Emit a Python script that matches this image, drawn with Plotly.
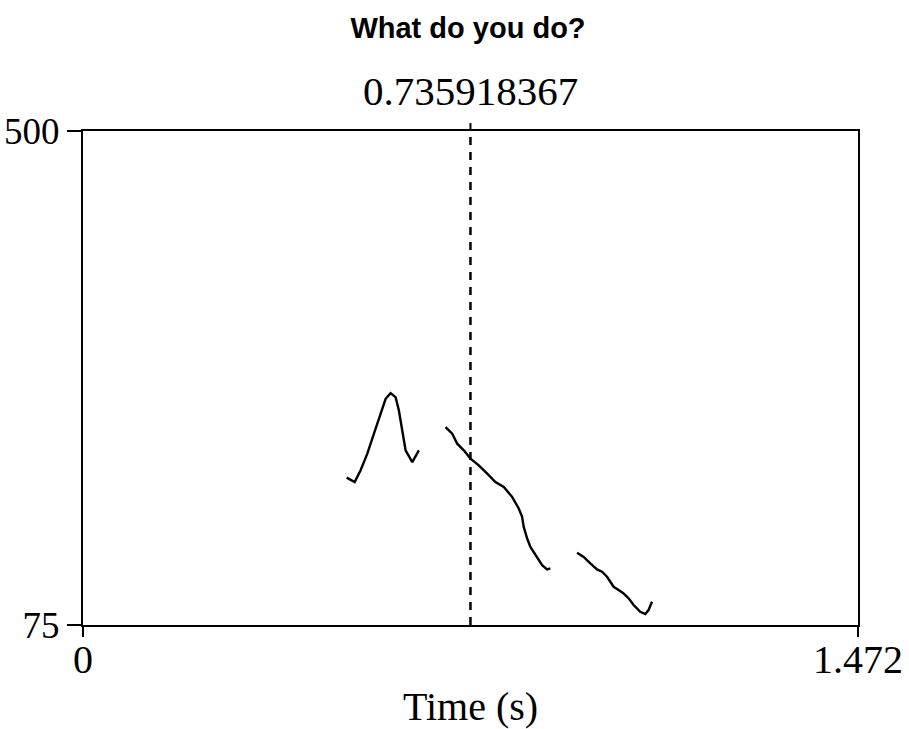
import plotly.graph_objects as go

# ---- data (pitch contour segments, Hz vs time s) ----
seg1_t = [0.5008, 0.516, 0.5273, 0.540, 0.5526, 0.5653, 0.5748, 0.5842, 0.5937, 0.600, 0.6064, 0.6127, 0.6254, 0.6379]
seg1_f = [201.8, 198.0, 208.1, 222.4, 239.6, 256.8, 269.6, 274.5, 271.0, 259.6, 242.4, 225.3, 215.2, 225.3]

seg2_t = [0.6886, 0.7013, 0.7108, 0.7233, 0.736, 0.7517, 0.7677, 0.7834, 0.7992, 0.8151, 0.8276, 0.834, 0.8371,
          0.8436, 0.8498, 0.8593, 0.872, 0.8815, 0.8877]
seg2_f = [245.3, 239.6, 231.0, 225.3, 218.1, 212.4, 205.2, 198.0, 193.7, 185.2, 175.2, 168.0, 159.4,
          149.4, 142.2, 135.1, 126.5, 122.8, 123.7]

seg3_t = [0.9384, 0.9509, 0.9636, 0.9763, 0.9858, 0.9953, 1.0016, 1.0078, 1.0173, 1.0268, 1.0363, 1.0458,
          1.0585, 1.068, 1.0742, 1.0807]
seg3_f = [137.1, 133.6, 128.0, 122.8, 120.8, 116.5, 112.2, 107.9, 105.1, 102.2, 97.9, 92.2,
          86.4, 84.4, 87.9, 95.0]

cursor_t = 0.735918367
cursor_label = "0.735918367"
x_range = [0, 1.472]
y_range = [75, 500]
x_ticks = [0, 1.472]
x_ticktext = ["0", "1.472"]
y_ticks = [75, 500]
y_ticktext = ["75", "500"]

title_text = "What do you do?"
x_title = "Time (s)"

SERIF = "Liberation Serif, Times New Roman, serif"
SANS = "Liberation Sans, Arial, sans-serif"

fig = go.Figure()
for t, f in [(seg1_t, seg1_f), (seg2_t, seg2_f), (seg3_t, seg3_f)]:
    fig.add_trace(go.Scatter(x=t, y=f, mode="lines",
                             line=dict(color="black", width=2.4),
                             showlegend=False, hoverinfo="skip"))

# dashed cursor line
fig.add_shape(type="line", xref="x", yref="y", x0=cursor_t, x1=cursor_t,
              y0=y_range[0], y1=y_range[1],
              line=dict(color="black", width=2.5, dash="8px,7px"))
# small tick above top frame at cursor
fig.add_shape(type="line", xref="x", yref="paper", x0=cursor_t, x1=cursor_t,
              y0=1.0, y1=1.016, line=dict(color="black", width=2))

fig.add_annotation(x=cursor_t, xref="x", y=1.081, yref="paper",
                   text=cursor_label, showarrow=False, xanchor="center", yanchor="middle",
                   font=dict(family=SERIF, size=41, color="black"))

fig.update_layout(
    width=909, height=729, autosize=False,
    margin=dict(l=83, r=51, t=131, b=104, autoexpand=False),
    paper_bgcolor="white", plot_bgcolor="white",
    title=dict(text="<b>" + title_text + "</b>", x=468 / 909, xanchor="center",
               y=1 - 28 / 729, yanchor="middle", yref="container",
               font=dict(family=SANS, size=29, color="black")),
    showlegend=False,
)

fig.update_xaxes(range=x_range, tickvals=x_ticks, ticktext=x_ticktext, automargin=False,
                 showgrid=False, zeroline=False,
                 showline=True, mirror=True, linecolor="black", linewidth=2,
                 ticks="outside", ticklen=10, tickwidth=2, tickcolor="black",
                 ticklabelstandoff=-12,
                 tickfont=dict(family=SERIF, size=40, color="black"),
                 title=dict(text=x_title, font=dict(family=SERIF, size=40, color="black"), standoff=13))
fig.update_yaxes(range=y_range, tickvals=y_ticks, ticktext=y_ticktext, automargin=False,
                 showgrid=False, zeroline=False,
                 showline=True, mirror=True, linecolor="black", linewidth=2,
                 ticks="outside", ticklen=14, tickwidth=2, tickcolor="black",
                 ticklabelstandoff=0,
                 tickfont=dict(family=SERIF, size=37, color="black"))

fig.write_html("out.html")
